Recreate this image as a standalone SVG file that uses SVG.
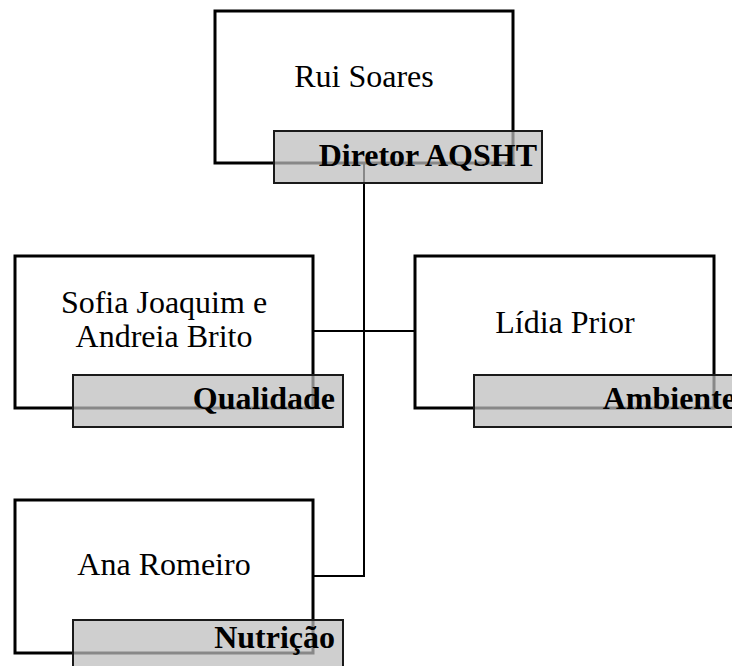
<svg xmlns="http://www.w3.org/2000/svg" width="732" height="666" viewBox="0 0 732 666">
<style>
.box{fill:#fff;stroke:#000;stroke-width:3}
.lab{fill:#bdbdbd;fill-opacity:0.72;stroke:#1a1a1a;stroke-width:2}
.name{font-family:"Liberation Serif","Times New Roman",serif;font-size:32px;fill:#000;text-anchor:middle}
.role{font-family:"Liberation Serif","Times New Roman",serif;font-size:32px;font-weight:bold;fill:#000;text-anchor:end}
.con{fill:none;stroke:#000;stroke-width:2}
</style>
<rect width="732" height="666" fill="#fff"/>
<g id="connectors">
<path class="con" d="M364,163 V576 H313"/>
<path class="con" d="M313,331 H415"/>
</g>
<g id="rui">
<rect class="box" x="215" y="11" width="298" height="152"/>
<text class="name" x="364" y="87">Rui Soares</text>
<rect class="lab" x="274" y="131" width="268" height="52"/>
<text class="role" x="537" y="166">Diretor AQSHT</text>
</g>
<g id="sofia">
<rect class="box" x="15" y="256" width="298" height="152"/>
<text class="name" x="164" y="313">Sofia Joaquim e</text>
<text class="name" x="164" y="347">Andreia Brito</text>
<rect class="lab" x="73" y="375" width="270" height="52"/>
<text class="role" x="335" y="409">Qualidade</text>
</g>
<g id="lidia">
<rect class="box" x="415" y="256" width="299" height="152"/>
<text class="name" x="565" y="333">Lídia Prior</text>
<rect class="lab" x="474" y="375" width="270" height="52"/>
<text class="role" x="736" y="409">Ambiente</text>
</g>
<g id="ana">
<rect class="box" x="15" y="500" width="298" height="153"/>
<text class="name" x="164" y="575">Ana Romeiro</text>
<rect class="lab" x="73" y="620" width="270" height="52"/>
<text class="role" x="335" y="648">Nutrição</text>
</g>
</svg>
